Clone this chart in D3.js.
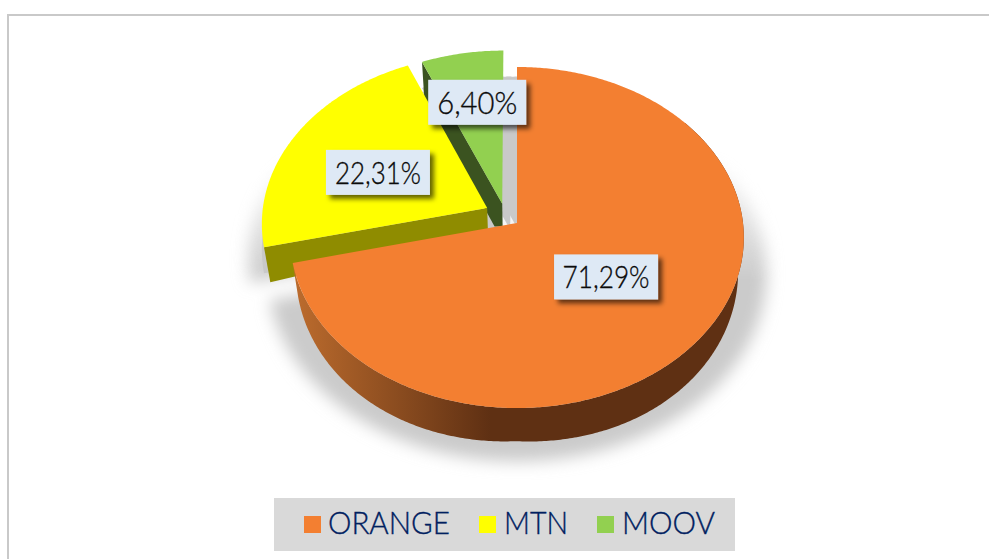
<!DOCTYPE html>
<html>
<head>
<meta charset="utf-8">
<script src="https://cdn.jsdelivr.net/npm/d3@7"></script>
<style>
html,body{margin:0;padding:0;background:#fff;overflow:hidden}
svg{display:block}
text{font-family:Lato,"Open Sans",sans-serif}
</style>
</head>
<body>
<svg id="c" width="989" height="559"></svg>
<script>
// ---- data ----
const categories = ["ORANGE", "MTN", "MOOV"];
const shares = [71.29, 22.31, 6.40];
const valueLabels = ["71,29%", "22,31%", "6,40%"];
// ---- styles ----
const topColors = ["#f37f31", "#ffff00", "#92d050"];
const wallColors = ["#5f3013", "#8f8c00", "#3b5320"];
// ---- layout ----
const W = 989, H = 559;
const apex = {x: 517, y: 223};
const persp = {A: 169.3, B: 226, k: 0.085};
const explodeU = [0, -0.133, -0.066];
const explodeV = [0, -0.09, -0.115];
const shadowScale = [1.1, 1.06, 1.06];
const sharpShadowShift = [0, 8, 16];
const labelRadius = [0.5, 0.55, 0.63];
const labelNudgeX = [-2, -2, 1];
const labelNudgeY = [0, 5, -4];
const labelWidth = [104, 104, 98];
const labelTextW = [87, 86, 80];
const labelHeight = 45;
const legendBox = {x: 274, y: 498, w: 461, h: 53};
const legendSwatchX = [304, 479, 597];
const legendTextX = [328, 504, 622];
const legendTextW = [122, 64, 93];

const svg = d3.select("#c");
const defs = svg.append("defs");

const blur = defs.append("filter").attr("id","blur")
  .attr("x","-20%").attr("y","-20%").attr("width","140%").attr("height","140%");
blur.append("feGaussianBlur").attr("stdDeviation",8);

const ds = defs.append("filter").attr("id","ds")
  .attr("x","-20%").attr("y","-30%").attr("width","140%").attr("height","170%");
ds.append("feDropShadow").attr("dx",4).attr("dy",4).attr("stdDeviation",2.6)
  .attr("flood-color","#000").attr("flood-opacity",0.62);

const fade = defs.append("linearGradient").attr("id","fade")
  .attr("gradientUnits","userSpaceOnUse").attr("x1",0).attr("x2",0).attr("y1",150).attr("y2",280);
fade.append("stop").attr("offset",0).attr("stop-color","#fff").attr("stop-opacity",0);
fade.append("stop").attr("offset",1).attr("stop-color","#fff").attr("stop-opacity",1);
const mask = defs.append("mask").attr("id","fadeMask").attr("maskUnits","userSpaceOnUse")
  .attr("x",0).attr("y",0).attr("width",W).attr("height",H);
mask.append("rect").attr("width",W).attr("height",H).attr("fill","url(#fade)");

const rimG = defs.append("linearGradient").attr("id","rim")
  .attr("gradientUnits","userSpaceOnUse").attr("x1",296).attr("x2",490).attr("y1",0).attr("y2",0);
rimG.append("stop").attr("offset",0).attr("stop-color","#bb6b2d");
rimG.append("stop").attr("offset",1).attr("stop-color",wallColors[0]);

// Frame
svg.append("path").attr("d",`M8,${H}V15H${W}`).attr("fill","none")
  .attr("stroke","#c9c9c9").attr("stroke-width",2);

// Pie angles
const arcs = d3.pie().sort(null).value(d=>d)(shares);

// Projection of disk coordinates (u to the right, v towards the viewer)
function proj(u, v){
  const d = 1 - persp.k * v;
  return [apex.x + persp.B * u / d, apex.y + persp.A * v / d];
}
function base(p){
  const depth = 22 + 0.055 * Math.abs(p[1] - 205) + 0.043 * Math.abs(p[0] - 516);
  return [516 + (p[0] - 516) * 0.975, p[1] + depth];
}
const line = d3.line().curve(d3.curveLinear);
const onDisk = (t, i, s=1) => proj(s*Math.sin(t) + explodeU[i], -s*Math.cos(t) + explodeV[i]);
const arcPts = (a, b, i, s=1) => {
  const n = Math.max(2, Math.ceil(Math.abs(b-a)/0.01));
  return d3.range(n+1).map(j => onDisk(a + (b-a)*j/n, i, s));
};
const slicePts = (d, i, s=1) => [onDisk(0,i,0)].concat(arcPts(d.startAngle, d.endAngle, i, s));

// Soft floor shadow
const shadow = svg.append("g").attr("mask","url(#fadeMask)")
  .append("g").attr("filter","url(#blur)").attr("fill","#cbcbcb");
shadow.append("path").attr("d", arcs.map((d,i) =>
  line(slicePts(d,i,shadowScale[i]).map(p=>[p[0],p[1]+33])) + "Z").join(""));

// Sharp shadows behind the detached slices
[2,1].forEach(i => {
  sharpShadowShift.forEach(dx => {
    svg.append("path").attr("d", line(slicePts(arcs[i],i).map(p=>[p[0]+dx,p[1]+26])) + "Z").attr("fill","#c9c9c9");
  });
});

// MOOV
{
  const d = arcs[2], i = 2;
  const c = onDisk(0,i,0), e = onDisk(d.startAngle,i);
  const bc = base(c), be = base(e);
  svg.append("path").attr("d", line([e,c,bc,[bc[0]-8,bc[1]],[be[0],be[1]+3]]) + "Z").attr("fill",wallColors[i]);
  svg.append("path").attr("d", line(slicePts(d,i)) + "Z").attr("fill",topColors[i]);
}
// MTN
{
  const d = arcs[1], i = 1;
  const c = onDisk(0,i,0), e = onDisk(d.startAngle,i);
  svg.append("path").attr("d", line([c,e,base(e),base(c)]) + "Z").attr("fill",wallColors[i]);
  svg.append("path").attr("d", line(slicePts(d,i)) + "Z").attr("fill",topColors[i]);
}
// ORANGE
{
  const d = arcs[0], i = 0;
  const rim = arcPts(0.9, d.endAngle, i);
  svg.append("path").attr("d", line(rim.concat(rim.map(base).reverse())) + "Z").attr("fill","url(#rim)");
  svg.append("path").attr("d", line(slicePts(d,i)) + "Z").attr("fill",topColors[i]);
}

// Value labels
const lab = svg.append("g").selectAll("g").data(arcs).join("g")
  .attr("transform",(d,i)=>{
    const m = (d.startAngle + d.endAngle)/2;
    const p = onDisk(m,i,labelRadius[i]);
    return `translate(${p[0]+labelNudgeX[i]},${p[1]+labelNudgeY[i]})`;
  });
lab.append("rect")
  .attr("x",(d,i)=>-labelWidth[i]/2).attr("y",-labelHeight/2)
  .attr("width",(d,i)=>labelWidth[i]).attr("height",labelHeight)
  .attr("fill","#dee9f5").attr("filter","url(#ds)");
lab.append("text").attr("text-anchor","middle").attr("y",11.5)
  .attr("font-size",32).attr("font-weight",300)
  .attr("stroke","#0b0b0b").attr("stroke-width",0.35)
  .attr("fill","#0b0b0b")
  .attr("textLength",(d,i)=>labelTextW[i]).attr("lengthAdjust","spacingAndGlyphs")
  .text((d,i)=>valueLabels[i]);

// Legend
svg.append("rect").attr("x",legendBox.x).attr("y",legendBox.y)
  .attr("width",legendBox.w).attr("height",legendBox.h).attr("fill","#d9d9d9");
const leg = svg.append("g").selectAll("g").data(categories).join("g");
leg.append("rect").attr("x",(d,i)=>legendSwatchX[i]).attr("y",516).attr("width",17).attr("height",17)
  .attr("fill",(d,i)=>topColors[i]);
leg.append("text").attr("x",(d,i)=>legendTextX[i]).attr("y",534)
  .attr("font-size",31).attr("font-weight",300).attr("fill","#002060")
  .attr("stroke","#002060").attr("stroke-width",0.35)
  .attr("textLength",(d,i)=>legendTextW[i]).attr("lengthAdjust","spacingAndGlyphs").text(d=>d);
</script>
</body>
</html>
